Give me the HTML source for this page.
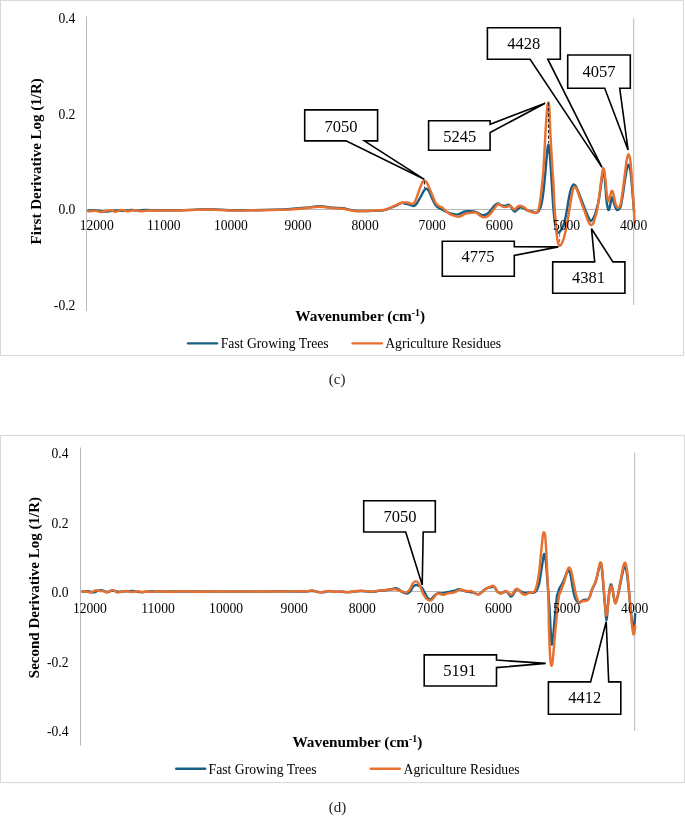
<!DOCTYPE html>
<html lang="en"><head><meta charset="utf-8"><title>NIR derivative spectra</title>
<style>
html,body{margin:0;padding:0;background:#fff}
svg{display:block;will-change:transform}
text{font-family:"Liberation Serif","DejaVu Serif",serif;fill:#000}
.tk{font-size:13.6px}
.lg{font-size:13.7px}
.ti{font-size:15px;font-weight:bold}.tx{font-size:15.3px;font-weight:bold}
.co{font-size:16.5px}
.cap{font-size:15px;fill:#222}
.cb{fill:#fff;stroke:#000;stroke-width:1.6;stroke-linejoin:miter}
.cv{fill:none;stroke-width:2.45;stroke-linejoin:round;stroke-linecap:round}
.ax{stroke:#b8b8b8;stroke-width:1;fill:none}
.dl{stroke-width:1.1;stroke-dasharray:3.2 2.3;fill:none}
</style></head><body>
<svg width="685" height="817" viewBox="0 0 685 817">
<rect x="0" y="0" width="685" height="817" fill="#fff"/>
<g id="chart-c">
<rect x="0.5" y="0.5" width="683" height="355" fill="#fff" stroke="#d9d9d9" stroke-width="1.1"/>
<path class="ax" d="M86.5 16.4V311M633.7 18.2V305M86.5 209.5H633.7"/>
<text class="tk" x="75.4" y="23.4" text-anchor="end">0.4</text>
<text class="tk" x="75.4" y="118.8" text-anchor="end">0.2</text>
<text class="tk" x="75.4" y="214.1" text-anchor="end">0.0</text>
<text class="tk" x="75.4" y="309.5" text-anchor="end">-0.2</text>
<text class="ti" transform="translate(40.5 244.4) rotate(-90)">First Derivative Log (1/R)</text>
<text class="tx" x="295.3" y="320.8">Wavenumber (cm<tspan font-size="9.8px" dy="-4.9">-1</tspan><tspan dy="4.9">)</tspan></text>
<path class="cv" stroke="#186083" d="M88.3 210.6C89.4 210.5 93 210.1 95 210.2C97 210.3 98.6 211.1 100.4 211.3C102.2 211.5 104.1 211.7 106 211.6C107.9 211.5 110 211.1 112 210.9C114 210.7 116 210.4 118 210.4C120 210.4 121.8 211 124 210.9C126.2 210.8 128.7 210.1 131 210C133.3 209.9 135.5 210.6 138 210.6C140.5 210.6 143 209.9 146 209.9C149 209.9 153 210.3 156 210.4C159 210.5 160 210.3 164 210.3C168 210.3 174.8 210.4 180 210.3C185.2 210.2 190.4 209.9 195 209.7C199.6 209.5 203 209.2 207.5 209.2C212 209.2 216.6 209.6 222 209.8C227.4 210 233.3 210.3 240 210.3C246.7 210.3 254.2 210.2 262 210C269.8 209.8 279.8 209.6 287 209.2C294.2 208.8 299.6 208.3 305 207.8C310.4 207.3 314.6 206.3 319.4 206.3C324.1 206.3 329.6 207.5 333.5 207.8C337.4 208.1 339.3 207.8 342.8 208.3C346.3 208.8 350.6 210.2 354.5 210.6C358.4 211 361.8 211 366 211C370.2 211 376.8 210.8 380 210.6C383.2 210.4 382.2 210.8 385 209.9C387.8 209 393.9 206.5 396.7 205.3C399.5 204.1 400.3 202.9 401.9 202.7C403.4 202.5 404.6 203.6 406 203.9C407.4 204.2 408.8 204.5 410.1 204.8C411.4 205.2 412.5 206.2 413.6 206C414.7 205.8 415.4 205.2 416.5 203.9C417.6 202.6 418.7 200.2 420 198C421.3 195.8 423 192 424.1 190.4C425.2 188.8 425.7 188.6 426.5 188.7C427.3 188.8 427.9 189.4 428.8 190.8C429.7 192.2 430.6 195.1 431.7 197.4C432.8 199.7 434.1 202.8 435.2 204.5C436.3 206.2 436.9 206.7 438.1 207.6C439.3 208.5 440.7 209 442.2 209.7C443.7 210.4 445.3 211.3 446.9 212C448.5 212.7 450.1 213.4 451.6 213.8C453.2 214.2 454.8 214.6 456.2 214.6C457.6 214.6 458.4 214.3 459.8 213.8C461.2 213.3 462.9 211.9 464.7 211.5C466.5 211.1 468.6 211.2 470.5 211.3C472.4 211.4 474.8 211.6 476.4 212.1C478 212.6 479.1 214 480.4 214.5C481.6 215 482.6 215.5 483.9 215.3C485.2 215.1 486.7 214.3 488 213.3C489.3 212.3 490.3 210.6 491.5 209.2C492.7 207.8 493.9 206.1 495 205.1C496.1 204.1 497 203.4 498 203.4C499 203.4 499.7 204.7 500.9 205.1C502.1 205.5 503.6 205.9 505 205.9C506.4 205.9 507.9 204.4 509.1 204.8C510.3 205.2 511 207.5 512 208.6C513 209.7 513.9 211.4 514.9 211.5C515.9 211.6 516.8 209.7 517.8 209C518.8 208.3 519.6 207.5 520.7 207.4C521.8 207.3 523 208.1 524.2 208.6C525.4 209.1 526.3 210.1 527.7 210.6C529.1 211.1 531.2 211.1 532.4 211.5C533.6 211.9 534.1 212.9 535.1 212.9C536.1 212.9 537.3 212.7 538.2 211.7C539.1 210.7 540 209 540.7 206.8C541.4 204.6 542 201.7 542.5 198.6C543 195.5 543.4 191.8 543.8 188.4C544.2 185 544.5 181.3 544.8 178.2C545.1 175.1 545.3 173.4 545.6 170C545.9 166.6 546.3 161.7 546.6 158C546.9 154.3 547.3 150.3 547.6 148C547.9 145.7 548.1 144.4 548.4 144.4C548.7 144.4 548.9 145.7 549.2 148C549.5 150.3 549.8 154.3 550.1 158C550.4 161.7 550.6 165.9 550.9 170C551.2 174.1 551.5 177.5 551.8 182.3C552.1 187.1 552.4 193.5 552.7 198.6C553 203.7 553.4 208.5 553.8 212.9C554.2 217.3 554.8 222.2 555.3 225.2C555.8 228.2 556.3 229.5 556.8 230.8C557.3 232.1 557.8 232.7 558.4 232.8C559 232.9 559.4 232.2 560.1 231.3C560.8 230.4 561.9 228.9 562.7 227.2C563.5 225.5 564 223.8 564.7 221.1C565.4 218.4 566.1 214.7 566.8 210.9C567.5 207.2 568.1 202.2 568.8 198.6C569.5 195 570.2 191.6 570.9 189.4C571.5 187.2 572.2 186.1 572.7 185.3C573.2 184.5 573.6 184.5 574.1 184.6C574.6 184.7 575.1 184.8 575.8 186.1C576.5 187.4 577.5 189.9 578.5 192.5C579.5 195.1 580.9 198.6 582.1 201.7C583.3 204.8 584.6 208.2 585.7 210.9C586.8 213.6 587.9 216.3 588.8 218C589.6 219.7 590.2 220.6 590.8 220.9C591.4 221.2 591.8 220.6 592.5 219.6C593.2 218.6 594.1 217 594.9 215C595.7 213 596.5 209.9 597.1 207.4C597.8 204.9 598.2 203.3 598.8 200.1C599.4 196.9 600 192 600.6 188C601.2 184 601.8 178.9 602.2 176C602.7 173.1 602.9 170.7 603.3 170.5C603.7 170.3 604.1 172.3 604.5 175C604.9 177.7 605 182.2 605.4 186.6C605.8 191 606.2 197.5 606.6 201.2C607 204.8 607.5 207 607.9 208.5C608.2 210 608.4 210.3 608.7 210C609.1 209.7 609.6 208.2 610 206.4C610.4 204.6 610.9 200.6 611.3 199.1C611.7 197.6 611.9 197.3 612.2 197.5C612.5 197.7 612.6 198.6 613.1 200.1C613.6 201.6 614.4 204.8 615 206.4C615.6 208 616.2 209.2 616.8 209.7C617.4 210.2 618 210.1 618.6 209.5C619.2 208.9 620 208.8 620.7 206.4C621.4 204 622.1 199.2 622.8 194.9C623.5 190.6 624.2 184.7 624.9 180.4C625.6 176.1 626.3 171.5 626.9 168.9C627.5 166.3 628 164.8 628.5 164.8C629 164.8 629.6 166.5 630.1 168.9C630.6 171.3 631 175 631.4 179.3C631.8 183.6 632.3 190.2 632.7 194.9C633.1 199.6 633.5 204.6 633.7 207.4C634 210.2 634.1 210.9 634.2 211.6"/>
<path class="cv" stroke="#e87030" d="M88.3 211.4C88.8 211.3 89.8 211.2 91 211.1C92.2 211 94.1 210.5 95.7 210.7C97.3 210.8 98.9 211.9 100.4 212C102 212.1 103.2 211.4 105 211.1C106.8 210.8 109.2 210.2 110.9 210.3C112.7 210.4 113.8 211.8 115.5 211.7C117.2 211.6 119.5 210 121.4 209.9C123.4 209.8 125.1 211.2 127.2 211.3C129.3 211.4 131.9 210.3 134.2 210.3C136.5 210.3 138.7 211.3 141.2 211.3C143.7 211.3 146.9 210.6 149.4 210.5C151.9 210.4 154 210.7 156.4 210.7C158.8 210.7 160.1 210.5 164 210.5C167.9 210.5 174.8 210.6 180 210.5C185.2 210.4 190.4 210.1 195 209.9C199.6 209.7 203 209.4 207.5 209.4C212 209.4 216.6 209.9 222 210.1C227.4 210.3 233.3 210.6 240 210.6C246.7 210.6 254.2 210.4 262 210.2C269.8 210 279.8 209.9 287 209.6C294.2 209.3 299.6 208.7 305 208.2C310.4 207.7 314.6 206.8 319.4 206.8C324.1 206.8 329.6 207.9 333.5 208.2C337.4 208.5 339.3 208.2 342.8 208.7C346.3 209.2 350.6 210.6 354.5 211C358.4 211.4 361.8 211.1 366 211C370.2 210.9 376.8 210.5 380 210.3C383.2 210.1 383.2 210.1 385 209.7C386.8 209.2 388.9 208.4 390.8 207.6C392.8 206.8 394.9 205.6 396.7 204.8C398.5 204 400.1 203.1 401.9 202.7C403.6 202.3 405.4 202.3 407.2 202.5C408.9 202.7 411.1 204.1 412.4 203.9C413.7 203.7 414 203.7 415.1 201.5C416.2 199.3 417.7 194.2 418.9 191C420.1 187.8 421.5 184 422.4 182.3C423.3 180.6 423.7 180.6 424.5 180.7C425.3 180.8 425.9 180.9 427 182.8C428.1 184.7 429.7 189 431.1 192.2C432.5 195.4 434 199.9 435.2 202.1C436.4 204.3 436.9 204.7 438.1 205.6C439.3 206.5 440.9 206.7 442.2 207.6C443.5 208.5 444.3 209.8 445.7 210.9C447.1 212 448.8 213.5 450.4 214.4C452 215.3 453.7 215.7 455.1 216.1C456.5 216.5 457.4 216.8 458.6 216.7C459.8 216.6 461.1 215.9 462.1 215.5C463.1 215.1 463.3 214.5 464.7 214.1C466.1 213.7 468.6 213.2 470.5 212.9C472.4 212.6 474.3 212.2 475.8 212.5C477.3 212.8 478.1 214.2 479.3 215C480.5 215.8 481.6 216.8 482.8 217.1C484 217.4 485 217.3 486.3 216.8C487.6 216.3 489.1 215.2 490.4 213.9C491.7 212.6 492.7 210.7 493.9 209.2C495.1 207.7 496.4 205.6 497.4 204.8C498.4 204 498.8 204.2 499.7 204.5C500.6 204.8 501.4 206.2 502.6 206.6C503.8 207 505.4 207.1 506.7 206.9C508 206.8 509.1 205.4 510.2 205.7C511.3 206 512.3 208 513.1 208.6C513.9 209.2 514.2 209.7 514.9 209.4C515.6 209.2 516.3 207.7 517.2 207.1C518.1 206.5 519 205.7 520.1 205.7C521.2 205.7 522.5 206.4 523.7 207.1C524.9 207.8 526.1 209.4 527.2 210.1C528.3 210.8 529 211.1 530.1 211.5C531.2 211.9 533 212.5 534.1 212.7C535.2 212.8 535.8 213.1 536.6 212.4C537.4 211.8 538.1 210.8 538.7 208.8C539.3 206.9 539.8 203.8 540.2 200.7C540.7 197.6 541 193.8 541.4 190.4C541.8 187 542.2 183.6 542.5 180.2C542.8 176.8 542.9 177.4 543.4 170C543.9 162.6 544.8 145 545.3 135.9C545.8 126.8 546.2 120.5 546.6 115.4C547 110.3 547.2 107.7 547.5 105.5C547.8 103.3 548 102.4 548.3 102.4C548.6 102.4 548.9 103.3 549.1 105.5C549.3 107.7 549.5 110.3 549.7 115.4C549.9 120.5 550 126.8 550.5 135.9C551 145 552 162.6 552.5 170C553 177.4 553 175.9 553.3 180.2C553.5 184.4 553.8 190.4 554 195.5C554.2 200.6 554.5 206.3 554.8 210.9C555.1 215.5 555.5 219 555.8 223.1C556.1 227.2 556.4 232.1 556.8 235.4C557.2 238.7 557.6 241.4 558.1 243.1C558.6 244.8 559 245.6 559.6 245.8C560.2 246 560.8 245.3 561.5 244.1C562.2 242.9 563 240.8 563.7 238.5C564.4 236.2 565.1 233.6 565.8 230.3C566.5 227.1 567.1 222.9 567.8 219C568.5 215.1 569.2 210.9 569.9 206.8C570.6 202.7 571.3 197.6 571.9 194.5C572.5 191.4 572.9 189.7 573.4 188.4C573.9 187.1 574.5 186.9 575 186.9C575.5 186.9 575.8 187 576.5 188.4C577.2 189.8 578.1 192.8 579 195.5C579.9 198.2 581.1 201.8 582.1 204.7C583.1 207.6 584.3 210.3 585.2 212.9C586.1 215.5 586.9 218.2 587.7 220.1C588.5 221.9 589.2 223.2 589.8 224C590.4 224.8 590.7 225.2 591.3 225C591.9 224.8 592.8 224.1 593.4 223.1C594 222.1 594.1 220.8 594.7 218.9C595.3 217 596.1 214.9 596.8 211.6C597.5 208.3 598.2 203.3 598.8 199.1C599.4 194.9 599.9 190.7 600.4 186.6C600.9 182.5 601.5 177.6 602 174.6C602.5 171.6 602.8 168.8 603.2 168.3C603.6 167.8 604.1 169.4 604.5 171.6C604.9 173.8 605.2 178 605.6 181.4C606 184.8 606.2 188.9 606.6 191.8C607 194.8 607.4 197.5 607.7 199.1C608.1 200.7 608.3 201.5 608.7 201.2C609.1 200.8 609.6 198.6 610 197C610.4 195.4 610.9 192.8 611.3 191.8C611.7 190.8 612 190.8 612.4 191.1C612.8 191.4 613 192.1 613.4 193.9C613.8 195.7 614.5 199.6 615 201.7C615.5 203.8 616 205.4 616.5 206.4C617 207.4 617.6 207.6 618.1 207.6C618.6 207.6 619.2 207.5 619.7 206.4C620.2 205.3 620.6 204.5 621.2 201.2C621.8 197.9 622.6 191.8 623.3 186.6C624 181.4 624.8 174.6 625.4 170C626 165.4 626.4 161.7 626.9 159C627.4 156.3 628 154.1 628.5 154.1C629 154.1 629.6 156 630.1 159C630.6 162 631 167.4 631.4 172C631.8 176.6 632.1 181.4 632.5 186.6C632.9 191.8 633.2 198.5 633.5 203.3C633.8 208.2 634 212.5 634.2 215.7C634.4 218.9 634.6 221.4 634.7 222.5"/>
<text class="tk" x="96.7" y="229.6" text-anchor="middle">12000</text>
<text class="tk" x="163.8" y="229.6" text-anchor="middle">11000</text>
<text class="tk" x="230.9" y="229.6" text-anchor="middle">10000</text>
<text class="tk" x="298" y="229.6" text-anchor="middle">9000</text>
<text class="tk" x="365.1" y="229.6" text-anchor="middle">8000</text>
<text class="tk" x="432.2" y="229.6" text-anchor="middle">7000</text>
<text class="tk" x="499.4" y="229.6" text-anchor="middle">6000</text>
<text class="tk" x="566.5" y="229.6" text-anchor="middle">5000</text>
<text class="tk" x="633.6" y="229.6" text-anchor="middle">4000</text>
<path class="dl" stroke="#222" d="M424.5 181.2V188"/>
<path class="dl" stroke="#222" d="M548.5 102.5V142.8"/>
<path class="dl" stroke="#777" d="M559.6 233.6V245.6"/>
<path class="cb" d="M304.7 109.9H377.6V140.9H364.3L424.3 179.3L346 140.9H304.7Z"/>
<text class="co" x="341" y="131.6" text-anchor="middle">7050</text>
<path class="cb" d="M428.6 120.7H490.1V124.3L545.1 103.3L490.1 132.5V150.3H428.6Z"/>
<text class="co" x="459.8" y="141.5" text-anchor="middle">5245</text>
<path class="cb" d="M487.4 27.7H560.3V59.2H547.8L602 167.4L530.1 59.2H487.4Z"/>
<text class="co" x="523.8" y="49" text-anchor="middle">4428</text>
<path class="cb" d="M567.7 55H630.3V88.2H619.7L628.1 150L604.7 88.2H567.7Z"/>
<text class="co" x="599" y="76.9" text-anchor="middle">4057</text>
<path class="cb" d="M442.3 241.2H514.3V246.6L558.3 246.9L514.3 255.5V276.3H442.3Z"/>
<text class="co" x="478.1" y="262.3" text-anchor="middle">4775</text>
<path class="cb" d="M552.7 261.9H594.7L591.5 228.7L612.9 261.9H624.9V293.2H552.7Z"/>
<text class="co" x="588.4" y="282.8" text-anchor="middle">4381</text>
<path d="M188 343.35H217" stroke="#186083" stroke-width="2.4" fill="none" stroke-linecap="round"/>
<text class="lg" x="220.7" y="347.8">Fast Growing Trees</text>
<path d="M352.7 343.35H381.85" stroke="#e87030" stroke-width="2.4" fill="none" stroke-linecap="round"/>
<text class="lg" x="385.2" y="347.8">Agriculture Residues</text>
</g>
<text class="cap" x="337.2" y="384.1" text-anchor="middle">(c)</text>
<g id="chart-d">
<rect x="0.5" y="435.4" width="684" height="347.2" fill="#fff" stroke="#d9d9d9" stroke-width="1.1"/>
<path class="ax" d="M80.5 447.5V745.5M634.7 452.7V731M80.5 591.5H634.7"/>
<text class="tk" x="68.5" y="458.1" text-anchor="end">0.4</text>
<text class="tk" x="68.5" y="527.6" text-anchor="end">0.2</text>
<text class="tk" x="68.5" y="597" text-anchor="end">0.0</text>
<text class="tk" x="68.5" y="666.5" text-anchor="end">-0.2</text>
<text class="tk" x="68.5" y="735.9" text-anchor="end">-0.4</text>
<text class="ti" transform="translate(38.6 678.2) rotate(-90)">Second Derivative Log (1/R)</text>
<text class="tx" x="292.4" y="746.8">Wavenumber (cm<tspan font-size="9.8px" dy="-4.9">-1</tspan><tspan dy="4.9">)</tspan></text>
<path class="cv" stroke="#186083" d="M82.3 591.4C82.6 591.4 83 591.6 84 591.6C85 591.6 86.7 591.1 88 591.2C89.3 591.3 90.8 592.2 92 592.3C93.2 592.4 94 592.3 95 592C96 591.7 96.9 590.9 98 590.6C99.1 590.3 100.3 590.1 101.5 590.2C102.7 590.3 103.9 591.1 105 591.4C106.1 591.7 107 592.1 108 592C109 591.9 110 591 111 590.8C112 590.6 112.9 590.7 114 590.8C115.1 590.9 116.5 591.5 117.5 591.6C118.5 591.8 118.9 591.7 120 591.7C121.1 591.7 122.5 591.5 124 591.4C125.5 591.3 127.5 591.3 129 591.2C130.5 591.1 131.7 590.9 133 591C134.3 591.1 135.5 591.7 137 591.9C138.5 592.1 140.3 592.3 142 592.3C143.7 592.2 145.3 591.8 147 591.6C148.7 591.4 150.2 591.3 152 591.3C153.8 591.3 155 591.5 158 591.5C161 591.5 165.5 591.5 170 591.5C174.5 591.5 180 591.6 185 591.6C190 591.6 194.2 591.4 200 591.4C205.8 591.4 213.3 591.6 220 591.6C226.7 591.6 233.3 591.4 240 591.4C246.7 591.4 253.3 591.6 260 591.6C266.7 591.6 273.3 591.3 280 591.3C286.7 591.3 295.5 591.5 300 591.5C304.5 591.5 304.9 591.6 307 591.5C309.1 591.4 310.6 590.7 312.3 590.7C314.1 590.8 315.8 591.5 317.5 591.8C319.2 592.1 321.1 592.4 322.8 592.3C324.6 592.2 326.2 591.3 328 591.2C329.8 591.1 331 591.5 333.3 591.6C335.6 591.7 339.5 591.7 342 591.8C344.5 591.9 346.1 592.1 348.2 592.1C350.2 592.1 352.1 591.7 354.3 591.5C356.5 591.3 359 590.9 361.3 590.9C363.6 590.9 366.2 591.4 368.3 591.5C370.4 591.6 371.9 591.9 373.6 591.8C375.4 591.7 376.8 591.1 378.8 590.8C380.8 590.5 383.8 590.5 385.8 590.2C387.9 590 389.5 589.6 391.1 589.3C392.7 589 394.2 588.3 395.5 588.3C396.8 588.3 397.8 588.9 399 589.5C400.2 590.1 401.2 591.5 402.5 592.1C403.8 592.8 405.7 593.4 406.9 593.4C408.1 593.4 408.7 592.8 409.5 592.1C410.3 591.5 410.9 590.5 411.5 589.5C412.1 588.5 412.6 587.1 413.4 586.4C414.2 585.6 415.4 585.1 416.4 585C417.4 584.9 418.3 585.3 419.3 585.8C420.3 586.3 421.3 587 422.2 588.1C423.1 589.2 423.7 590.7 424.5 592.2C425.3 593.7 426.1 595.7 426.9 596.9C427.7 598.1 428.4 598.9 429.2 599.2C430 599.6 430.5 599.7 431.5 599C432.5 598.3 433.8 596.1 435 595.1C436.2 594.1 437.3 593.4 438.5 593.1C439.7 592.8 440.7 593.5 442 593.4C443.3 593.3 444.7 592.7 446.1 592.4C447.5 592.1 448.7 591.9 450.2 591.6C451.7 591.3 453.5 591.2 454.9 590.8C456.3 590.4 457.2 589.4 458.4 589.3C459.6 589.2 460.6 589.7 461.9 590.1C463.2 590.5 464.6 591.3 466 591.6C467.4 591.9 468.7 591.8 470.1 592C471.5 592.2 472.9 592.4 474.2 592.8C475.5 593.2 476.9 594.4 478.2 594.3C479.4 594.2 480.4 593.1 481.7 592.2C483 591.3 484.4 589.7 485.8 588.9C487.2 588.1 488.6 587.6 489.9 587.3C491.2 587 492.4 586.7 493.4 586.9C494.3 587.1 494.9 587.8 495.6 588.6C496.3 589.4 496.8 591 497.6 591.8C498.4 592.6 499.4 593.1 500.4 593.2C501.3 593.3 502.3 592.7 503.3 592.4C504.3 592.1 505.2 591 506.2 591.4C507.2 591.8 508.3 593.6 509.1 594.5C509.9 595.4 510.4 596.6 511.1 596.6C511.8 596.6 512.5 595.5 513.2 594.5C513.9 593.5 514.8 591.3 515.5 590.4C516.2 589.5 516.5 589.2 517.3 589.3C518.1 589.4 519.1 590.4 520.2 591C521.3 591.6 522.5 592.5 523.7 592.8C524.9 593.1 526 592.9 527.2 592.8C528.4 592.7 529.6 592.2 530.7 592.2C531.8 592.2 532.7 593.1 533.7 592.8C534.7 592.5 535.7 592.1 536.6 590.5C537.5 588.9 538.4 586.6 539.2 583.4C540 580.2 540.6 574.9 541.2 571.1C541.8 567.4 542.3 563.7 542.8 560.9C543.3 558.1 543.7 554.9 544.1 554.2C544.5 553.6 544.9 555.2 545.3 557C545.6 558.8 545.9 561.5 546.2 565C546.5 568.5 546.9 573.3 547.2 578C547.6 582.7 547.9 587.7 548.3 593C548.7 598.3 549.2 604.2 549.6 610C550 615.8 550.2 623 550.5 628C550.8 633 551.1 637.2 551.3 640C551.5 642.8 551.5 644.7 551.8 644.5C552.1 644.3 552.5 643 553 639C553.5 635 554 626.3 554.5 620.7C555 615.1 555.7 609.6 556.1 605.3C556.5 601 556.8 597 557.1 595.1C557.4 593.2 557.4 594.7 557.8 593.6C558.2 592.5 558.8 589.9 559.4 588.5C560 587.1 560.6 586.6 561.3 585.4C562 584.2 562.6 583 563.4 581.3C564.1 579.6 565.1 576.9 565.8 575.2C566.5 573.5 567 571.9 567.5 571.1C568 570.3 568.3 570.1 568.7 570.4C569.1 570.7 569.7 571.6 570.1 573.1C570.5 574.6 571 576.9 571.4 579.3C571.8 581.7 572.2 584.8 572.7 587.4C573.2 590 573.6 592.5 574.1 594.6C574.6 596.7 575.4 598.5 576 599.7C576.6 600.9 576.9 601.3 577.5 601.8C578.1 602.2 579 602.5 579.6 602.4C580.2 602.3 580.5 601.8 581.1 601.4C581.7 601 582.3 600.5 583.1 600.2C583.9 599.9 584.9 599.8 585.7 599.7C586.5 599.6 587.1 600.1 587.7 599.7C588.3 599.3 588.8 598.4 589.3 597.5C589.8 596.6 590.1 596 590.6 594.5C591.1 593 591.6 590.7 592.4 588.8C593.2 586.9 594.4 585.4 595.2 583.2C596 581 596.7 578.3 597.3 575.8C597.9 573.3 598.4 570.3 598.9 568.4C599.4 566.5 599.7 565.3 600 564.5C600.3 563.7 600.5 563.4 600.7 563.6C601 563.8 601.2 563.4 601.5 565.5C601.8 567.6 602.2 571.9 602.6 576C603 580.1 603.3 585.4 603.7 590C604.1 594.6 604.5 599.6 604.8 603.5C605.1 607.4 605.4 610.7 605.7 613.5C606 616.3 606.2 620.3 606.5 620.3C606.8 620.3 607 616.7 607.3 613.5C607.6 610.3 607.9 604.8 608.3 601C608.6 597.2 609 593.1 609.4 590.5C609.8 587.9 610.2 586.6 610.5 585.6C610.8 584.6 611 584.2 611.3 584.7C611.6 585.2 612 586.6 612.4 588.5C612.8 590.4 613.2 593.8 613.6 596C614 598.2 614.4 600.4 614.7 601.5C615 602.6 615.2 603 615.5 602.8C615.8 602.6 616.1 601.6 616.6 600.2C617.1 598.8 617.7 596.7 618.2 594.3C618.8 591.9 619.3 588.6 619.9 585.8C620.5 583 621.1 580 621.6 577.5C622.1 575 622.7 572.2 623.1 570.5C623.5 568.8 623.9 568 624.2 567.3C624.5 566.6 624.7 566.2 625 566.3C625.3 566.4 625.5 566.4 625.9 568C626.3 569.6 626.9 572.8 627.3 576C627.7 579.2 628.1 583.2 628.5 587C628.9 590.8 629.3 594.7 629.7 599C630.1 603.3 630.6 609.1 631 613C631.4 616.9 631.8 620.2 632.2 622.5C632.6 624.8 633.1 626.5 633.5 627C633.9 627.5 634.1 626.7 634.3 625.5C634.5 624.3 634.6 621.9 634.8 620C634.9 618.1 635.1 615 635.2 614"/>
<path class="cv" stroke="#e87030" d="M82.3 591.7C82.5 591.6 83 590.9 83.8 590.9C84.5 590.9 85.7 591.4 86.8 591.7C87.9 592 89.2 592.5 90.3 592.5C91.4 592.5 92.2 591.8 93.2 591.4C94.2 591 95 590.3 96.1 590.3C97.2 590.2 98.4 591 99.6 591.1C100.8 591.2 101.9 590.9 103.1 591.1C104.3 591.3 105.5 592.4 106.6 592.5C107.7 592.6 108.5 592.1 109.5 591.7C110.5 591.3 111.5 590 112.5 589.9C113.5 589.8 114.4 590.9 115.4 591.4C116.4 591.9 117.2 592.6 118.3 592.6C119.4 592.6 120.5 591.7 121.8 591.4C123.1 591.1 124.4 590.9 125.9 591C127.4 591.1 129.2 591.8 130.6 591.9C132 592 132.9 592 134.1 591.9C135.3 591.8 136.3 591.2 137.6 591.2C138.9 591.2 140.1 591.9 141.7 591.9C143.2 591.9 145.2 591.4 146.9 591.4C148.6 591.4 149.8 591.9 151.6 591.9C153.4 591.9 154.9 591.2 158 591.2C161.1 591.2 165.5 591.8 170 591.8C174.5 591.8 180 591.3 185 591.3C190 591.3 194.2 591.7 200 591.7C205.8 591.7 213.3 591.4 220 591.4C226.7 591.4 233.3 591.6 240 591.6C246.7 591.6 253.3 591.4 260 591.4C266.7 591.4 273.3 591.5 280 591.5C286.7 591.5 295.5 591.3 300 591.3C304.5 591.3 304.9 591.4 307 591.3C309.1 591.1 310.6 590.3 312.3 590.4C314.1 590.5 315.8 591.8 317.5 592.1C319.2 592.4 321.1 592.3 322.8 592.1C324.6 591.9 326.2 591 328 590.9C329.8 590.8 331 591.7 333.3 591.8C335.6 591.9 339.5 591.5 342 591.6C344.5 591.7 346.1 592.3 348.2 592.3C350.2 592.2 352.1 591.6 354.3 591.3C356.5 591 359 590.7 361.3 590.7C363.6 590.7 366.2 591.1 368.3 591.3C370.4 591.4 371.9 591.7 373.6 591.6C375.4 591.5 376.8 590.9 378.8 590.6C380.8 590.3 383.8 590.2 385.8 590C387.9 589.8 389.5 589.6 391.1 589.5C392.7 589.4 394.2 589.1 395.5 589.2C396.8 589.4 397.7 589.9 399 590.4C400.3 590.9 402.2 591.7 403.5 592C404.8 592.3 405.9 592.7 407 592.2C408.1 591.8 408.9 590.8 409.9 589.3C410.9 587.8 411.8 584.8 412.8 583.4C413.8 582 414.8 581.1 415.8 581.1C416.8 581.1 417.7 581.9 418.7 583.4C419.7 584.9 420.7 587.9 421.6 589.9C422.5 591.9 423 593.5 423.9 595.1C424.8 596.7 425.9 598.3 426.9 599.2C427.9 600.1 428.8 600.6 429.8 600.6C430.8 600.6 431.7 600.1 432.7 599.2C433.7 598.3 434.7 596.1 435.6 595.1C436.5 594.1 437.1 593.5 438 593.4C438.9 593.3 439.9 594.1 440.9 594.3C441.9 594.5 442.6 594.9 443.8 594.8C445 594.6 446.5 593.7 447.9 593.4C449.3 593.1 450.7 593 452 592.8C453.3 592.6 454.4 592.5 455.5 592C456.6 591.5 457.4 590.5 458.4 590.1C459.4 589.7 460.2 589.5 461.3 589.6C462.4 589.7 463.6 590.5 464.8 590.8C466 591.1 467.2 591.3 468.3 591.3C469.4 591.3 470.2 590.8 471.2 591C472.2 591.2 473.3 592.2 474.5 592.8C475.7 593.4 477 594.6 478.2 594.5C479.4 594.4 480.4 593.2 481.7 592.2C483 591.2 484.4 589.6 485.8 588.7C487.2 587.8 488.7 587.4 489.9 586.9C491.1 586.4 491.9 585.7 492.8 585.8C493.7 585.9 494.3 586.5 495.1 587.5C495.9 588.5 496.5 590.6 497.4 591.6C498.3 592.6 499.4 593.3 500.4 593.4C501.4 593.5 502.3 592.6 503.3 592.2C504.3 591.8 505.3 590.9 506.2 591C507.1 591.1 507.7 592.2 508.5 592.8C509.3 593.4 510.2 594.6 510.9 594.8C511.6 595 511.9 594.7 512.6 593.9C513.3 593.1 514.2 590.8 515 589.9C515.8 589 516.5 588.5 517.3 588.7C518.1 588.9 518.7 590.1 519.6 591C520.5 591.9 521.6 593.3 522.6 593.9C523.6 594.5 524.5 594.9 525.5 594.8C526.5 594.7 527.5 593.5 528.4 593.1C529.3 592.7 529.9 592.4 530.7 592.3C531.5 592.2 532.4 592.7 533.1 592.4C533.8 592.1 534.4 592 535.1 590.5C535.8 589 536.5 586.6 537.2 583.4C537.9 580.2 538.6 575.5 539.2 571.1C539.8 566.7 540.2 561.6 540.7 556.8C541.2 552 541.7 546.2 542.1 542.5C542.5 538.8 542.8 536 543.1 534.3C543.4 532.6 543.8 532.2 544.1 532.3C544.4 532.4 544.8 532.6 545.1 534.8C545.4 537 545.6 541.1 545.9 545.5C546.2 549.9 546.5 555.8 546.7 560.9C547 566 547.1 571.1 547.4 576.2C547.6 581.3 548 583.2 548.2 591.5C548.5 599.8 548.7 616.7 548.9 625.8C549.1 634.9 549.4 640.4 549.6 646.2C549.9 652 550.1 657.2 550.4 660.5C550.7 663.8 551.1 666.1 551.5 666.1C551.9 666.1 552.3 663.8 552.7 660.5C553.1 657.2 553.6 651.1 554 646.2C554.4 641.3 554.8 636 555.3 630.9C555.8 625.8 556.3 620.3 556.8 615.5C557.3 610.7 557.7 605.9 558.1 602.3C558.5 598.7 559.1 595.6 559.4 594.1C559.7 592.6 559.7 593.9 560.1 593C560.5 592.1 561.1 590.1 561.7 588.5C562.3 586.9 563 585.4 563.7 583.4C564.4 581.4 565.2 578.4 565.8 576.2C566.4 574 566.7 571.6 567.3 570.1C567.9 568.6 568.7 567.5 569.3 567.5C569.9 567.5 570.4 568.6 570.9 570.1C571.4 571.6 571.9 573.8 572.4 576.2C572.9 578.6 573.4 581.7 573.9 584.4C574.4 587.1 575 590.3 575.5 592.6C576 594.9 576.6 596.9 577 598.2C577.4 599.6 577.6 599.9 578 600.7C578.4 601.5 579.1 602.6 579.6 602.8C580.1 603 580.6 602.4 581.1 602.1C581.6 601.8 582 601.2 582.6 601C583.2 600.8 584 601 584.7 601C585.4 601 586 601.1 586.7 600.7C587.4 600.3 588.2 599.6 588.8 598.7C589.4 597.8 589.7 596.8 590.3 595.1C590.9 593.4 591.4 590.6 592.2 588.6C593 586.6 594.2 585.2 595 583C595.8 580.8 596.6 577.9 597.2 575.3C597.8 572.7 598.3 569.6 598.8 567.6C599.2 565.6 599.6 564.1 599.9 563.2C600.2 562.3 600.4 562.1 600.7 562.3C601 562.5 601.3 562.1 601.6 564.3C601.9 566.5 602.3 571.1 602.7 575.3C603.1 579.5 603.4 585.1 603.8 589.7C604.2 594.3 604.6 599.2 604.9 602.9C605.2 606.6 605.5 609.6 605.8 611.7C606.1 613.8 606.2 615.5 606.5 615.5C606.8 615.5 607.1 614.2 607.4 611.7C607.7 609.2 608.1 604.2 608.5 600.7C608.9 597.2 609.2 593.1 609.6 590.8C610 588.5 610.4 587.6 610.7 586.9C611 586.2 611.2 585.9 611.5 586.4C611.8 586.9 612.2 588.1 612.6 589.7C613 591.4 613.3 594.3 613.7 596.3C614.1 598.3 614.5 600.6 614.8 601.8C615.1 603 615.3 603.6 615.6 603.4C615.9 603.2 616.3 602.2 616.7 600.7C617.1 599.2 617.6 596.7 618.1 594.1C618.6 591.5 619.2 588.2 619.7 585.2C620.2 582.2 620.9 579.3 621.4 576.4C621.9 573.5 622.5 569.7 623 567.6C623.5 565.5 623.8 564.6 624.1 563.8C624.4 563 624.7 562.5 625 562.7C625.3 562.9 625.7 563 626.1 564.9C626.5 566.8 627.1 570.6 627.5 574.2C627.9 577.8 628.2 582.2 628.6 586.4C629 590.6 629.3 594.8 629.7 599.6C630.1 604.4 630.6 610.6 631 615C631.4 619.4 631.7 623 632.1 626C632.5 629 632.9 631.8 633.2 633.2C633.5 634.6 633.6 634.6 633.8 634.3C634 634 634.4 632.9 634.6 631.5C634.8 630.1 635.1 626.9 635.2 626"/>
<text class="tk" x="89.9" y="613.1" text-anchor="middle">12000</text>
<text class="tk" x="158" y="613.1" text-anchor="middle">11000</text>
<text class="tk" x="226.1" y="613.1" text-anchor="middle">10000</text>
<text class="tk" x="294.2" y="613.1" text-anchor="middle">9000</text>
<text class="tk" x="362.3" y="613.1" text-anchor="middle">8000</text>
<text class="tk" x="430.4" y="613.1" text-anchor="middle">7000</text>
<text class="tk" x="498.5" y="613.1" text-anchor="middle">6000</text>
<text class="tk" x="566.6" y="613.1" text-anchor="middle">5000</text>
<text class="tk" x="634.7" y="613.1" text-anchor="middle">4000</text>
<path class="cb" d="M363.7 500.7H435.3V532H423.2L422.2 585.1L405.7 532H363.7Z"/>
<text class="co" x="399.9" y="522" text-anchor="middle">7050</text>
<path class="cb" d="M424.2 654.9H496.5V660.1L545.7 663.4L496.5 667.6V686H424.2Z"/>
<text class="co" x="459.7" y="676.1" text-anchor="middle">5191</text>
<path class="cb" d="M548.4 681.9H590.6L606.2 621.7L608.7 681.9H620.8V714.3H548.4Z"/>
<text class="co" x="584.7" y="702.8" text-anchor="middle">4412</text>
<path d="M176.2 768.8H205.15" stroke="#186083" stroke-width="2.4" fill="none" stroke-linecap="round"/>
<text class="lg" x="208.6" y="774.3">Fast Growing Trees</text>
<path d="M370.7 768.8H399.85" stroke="#e87030" stroke-width="2.4" fill="none" stroke-linecap="round"/>
<text class="lg" x="403.6" y="774.3">Agriculture Residues</text>
</g>
<text class="cap" x="337.6" y="812.3" text-anchor="middle">(d)</text>
</svg>
</body></html>
